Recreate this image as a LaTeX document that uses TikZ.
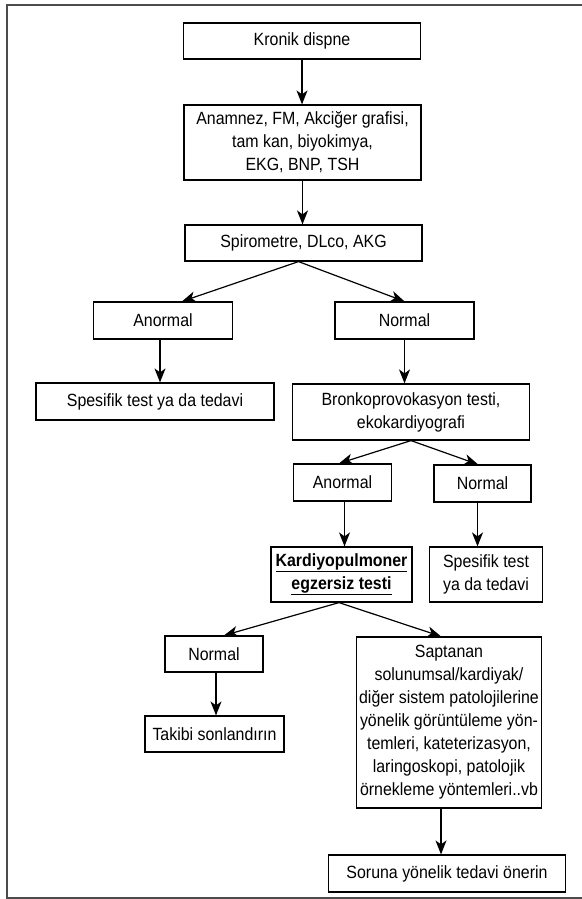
\documentclass[tikz,border=0pt]{standalone}
\usepackage{fontspec}
\setmainfont{Liberation Sans}[FakeStretch=0.9]
\usetikzlibrary{arrows.meta,positioning,calc}

\begin{document}
\begin{tikzpicture}[x=1pt, y=-1pt,
		box/.style={draw, line width=1.2pt, fill=white, inner sep=0pt, align=center, font=\fontsize{17.7}{23}\selectfont},
		arr/.style={line width=1.2pt, -{Stealth[length=14pt, width=11pt, inset=4pt]}}]
		\useasboundingbox (0,0) rectangle (581,899);
		\draw[line width=2pt, black!70] (590,4.7) -- (6.7,4.7) -- (6.7,898) -- (590,898);

		\node[box, minimum width=237pt, minimum height=36pt] (kronik) at (302,41) {Kronik dispne};
		\node[box, minimum width=237pt, minimum height=75pt] (anamnez) at (302.5,142.5) {Anamnez, FM, Akciğer grafisi,\\tam kan, biyokimya,\\EKG, BNP, TSH};
		\node[box, minimum width=237pt, minimum height=36pt] (spiro) at (303.5,243) {Spirometre, DLco, AKG};

		\node[box, minimum width=139pt, minimum height=37pt] (anormalA) at (163,320.5) {Anormal};
		\node[box, minimum width=139pt, minimum height=37pt] (normalA) at (404.5,320.5) {Normal};
		\node[box, minimum width=238pt, minimum height=37pt] (spesifikA) at (155,401.5) {Spesifik test ya da tedavi};
		\node[box, minimum width=237pt, minimum height=56pt] (bronko) at (411,412) {Bronkoprovokasyon testi,\\ekokardiyografi};

		\node[box, minimum width=98pt, minimum height=37pt] (anormalB) at (342.5,482.5) {Anormal};
		\node[box, minimum width=97pt, minimum height=37pt] (normalB) at (482.5,483.5) {Normal};
		\node[box, minimum width=141pt, minimum height=55pt] (kardiyo) at (341.5,574.5) {\textbf{\underline{Kardiyopulmoner}}\\\textbf{\underline{egzersiz testi}}};
		\node[box, minimum width=113pt, minimum height=55pt] (spesifikB) at (486,574.5) {Spesifik test\\ya da tedavi};

		\node[box, minimum width=98pt, minimum height=36pt] (normalC) at (214,654) {Normal};
		\node[box, minimum width=139pt, minimum height=36pt] (takibi) at (214.5,734) {Takibi sonlandırın};
		\node[box, minimum width=185pt, minimum height=171pt] (saptanan) at (449,722.5) {Saptanan\\solunumsal/kardiyak/\\diğer sistem patolojilerine\\yönelik görüntüleme yön-\\temleri, kateterizasyon,\\laringoskopi, patolojik\\örnekleme yöntemleri..vb};
		\node[box, minimum width=237pt, minimum height=37pt] (soruna) at (447,873.5) {Soruna yönelik tedavi önerin};

		% straight down
		\draw[arr] (kronik.south) -- (kronik.south |- anamnez.north);
		\draw[arr] (anamnez.south) -- (anamnez.south |- spiro.north);
		\draw[arr] ([xshift=-3pt]anormalA.south) -- ([xshift=-3pt]anormalA.south |- spesifikA.north);
		\draw[arr] (normalA.south) -- (normalA.south |- bronko.north);
		\draw[arr] ([xshift=2pt]anormalB.south) -- ([xshift=2pt]anormalB.south |- kardiyo.north);
		\draw[arr] ([xshift=-5pt]normalB.south) -- ([xshift=-5pt]normalB.south |- spesifikB.north);
		\draw[arr] ([xshift=2pt]normalC.south) -- ([xshift=2pt]normalC.south |- takibi.north);
		\draw[arr] ([xshift=-8pt]saptanan.south) -- ([xshift=-8pt]saptanan.south |- soruna.north);

		% splits
		\draw[arr] ([xshift=-5pt]spiro.south) -- ([xshift=19pt]anormalA.north);
		\draw[arr] ([xshift=-5pt]spiro.south) -- (normalA.north);
		\draw[arr] (bronko.south) -- ([xshift=-3.5pt]anormalB.north);
		\draw[arr] (bronko.south) -- ([xshift=-4.5pt]normalB.north);
		\draw[arr] ([xshift=-2.5pt]kardiyo.south) -- ([xshift=10pt]normalC.north);
		\draw[arr] ([xshift=-2.5pt]kardiyo.south) -- ([xshift=-8pt]saptanan.north);
	\end{tikzpicture}
\end{document}
